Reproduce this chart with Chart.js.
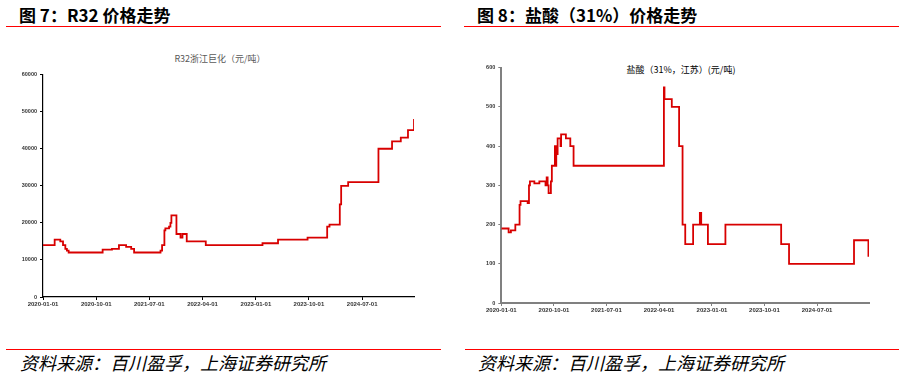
<!DOCTYPE html>
<html>
<head>
<meta charset="utf-8">
<script src="https://cdn.jsdelivr.net/npm/chart.js@4.4.0/dist/chart.umd.min.js"></script>
<style>
  body { margin: 0; width: 904px; height: 377px; background: #fff; position: relative; overflow: hidden; font-family: "Noto Sans CJK SC", sans-serif; }
  .abs { position: absolute; white-space: nowrap; }
  .head { font-size: 17px; font-weight: bold; color: #000; line-height: 1; }
  .rule { position: absolute; height: 1px; background: #ff0000; }
  .src { font-size: 18px; font-style: italic; color: #000; line-height: 1; }
  .ctitle { font-size: 9px; line-height: 1; transform: translateX(-50%); }
  canvas { position: absolute; }
</style>
</head>
<body>
<div class="abs head" style="left:19px;top:6px;">图 7：R32 价格走势</div>
<div class="rule" style="left:6px;top:26px;width:435px;"></div>
<div class="abs head" style="left:477px;top:6px;">图 8：盐酸（31%）价格走势</div>
<div class="rule" style="left:464px;top:26px;width:435px;"></div>

<div class="abs ctitle" style="left:220px;top:54px;color:#595959;">R32浙江巨化（元/吨）</div>
<div class="abs ctitle" style="left:681px;top:65px;color:#000;">盐酸（31%，江苏）(元/吨)</div>

<div style="position:absolute;left:0;top:40px;width:440px;height:277px;"><canvas id="c1"></canvas></div>
<div style="position:absolute;left:460px;top:40px;width:429px;height:283px;"><canvas id="c2"></canvas></div>

<div class="rule" style="left:6px;top:349px;width:435px;"></div>
<div class="abs src" style="left:20px;top:353px;">资料来源：百川盈孚，上海证券研究所</div>
<div class="rule" style="left:465px;top:349px;width:434px;"></div>
<div class="abs src" style="left:478px;top:353px;">资料来源：百川盈孚，上海证券研究所</div>

<script>
// tick labels shared by both charts
var xTicks = ['2020-01-01', '2020-10-01', '2021-07-01', '2022-04-01', '2023-01-01', '2023-10-01', '2024-07-01'];

// R32 浙江巨化 (元/吨) - value holds from the date until the next one
var r32Dates = ['2020-01-01', '2020-03-01', '2020-03-30', '2020-04-13', '2020-04-25', '2020-05-03', '2020-05-12',
  '2020-11-03', '2020-12-21', '2021-01-26', '2021-03-04', '2021-03-30', '2021-04-14', '2021-08-28', '2021-09-05',
  '2021-09-17', '2021-09-22', '2021-10-11', '2021-10-18', '2021-10-23', '2021-11-18', '2021-12-09', '2021-12-19',
  '2022-01-10', '2022-04-18', '2023-02-04', '2023-04-25', '2023-09-24', '2024-01-03', '2024-01-15', '2024-03-08',
  '2024-03-15', '2024-04-20', '2024-09-23', '2024-12-02', '2025-01-16', '2025-02-22', '2025-03-25'];
var r32Values = [14000, 15500, 15000, 14000, 13000, 12500, 12000,
  12800, 13000, 14000, 13500, 13000, 12000, 12500, 14000,
  18000, 18500, 19000, 20000, 22000, 17000, 16000, 17000,
  15000, 14000, 14500, 15500, 16000, 19000, 19500, 25000,
  30000, 31000, 40000, 42000, 43000, 45000, 48000];
var r32Ticks = [0, 10000, 20000, 30000, 40000, 50000, 60000];

// 盐酸 31% 江苏 (元/吨)
var hclDates = ['2020-01-01', '2020-02-08', '2020-02-20', '2020-03-14', '2020-04-05', '2020-04-10', '2020-05-17',
  '2020-05-24', '2020-05-29', '2020-06-21', '2020-07-17', '2020-08-18', '2020-08-24', '2020-08-29', '2020-09-03',
  '2020-09-15', '2020-09-20', '2020-10-06', '2020-10-11', '2020-10-13', '2020-10-20', '2020-11-04', '2020-11-07',
  '2020-12-02', '2020-12-25', '2021-01-11', '2022-04-26', '2022-04-29', '2022-06-06', '2022-07-14', '2022-08-01',
  '2022-08-15', '2022-09-25', '2022-10-30', '2022-11-06', '2022-12-11', '2023-03-12', '2023-12-27', '2024-02-06',
  '2025-01-09', '2025-03-25', '2025-03-28'];
var hclValues = [190, 180, 185, 200, 250, 260, 255,
  300, 310, 305, 310, 300, 320, 300, 280,
  310, 350, 400, 350, 380, 420, 400, 430,
  420, 400, 350, 550, 520, 500, 400, 200,
  150, 200, 230, 200, 150, 200, 150, 100,
  160, 120, 120];
var hclTicks = [0, 100, 200, 300, 400, 500, 600];

function toDay(s) {
    var p = s.split('-');
    return Math.round((Date.UTC(+p[0], +p[1] - 1, +p[2]) - Date.UTC(2020, 0, 1)) / 86400000);
}
function fromDay(d) {
    return new Date(Date.UTC(2020, 0, 1) + d * 86400000).toISOString().slice(0, 10);
}

function makeChart(id, dates, values, yTicks, endDate, opts) {
    var pts = dates.map(function (d, i) { return { x: toDay(d), y: values[i] }; });
    var tickFont = { family: 'Arial, "Liberation Sans"', size: 6, weight: 'bold' };
    var ctx = document.getElementById(id).getContext('2d');
    return new Chart(ctx, {
        type: 'line',
        data: {
            datasets: [{
                data: pts,
                borderColor: '#d80000',
                borderWidth: 1.8,
                pointRadius: 0,
                stepped: true,
                fill: false
            }]
        },
        options: {
            responsive: true,
            maintainAspectRatio: false,
            animation: false,
            plugins: { legend: { display: false }, tooltip: { enabled: false } },
            layout: { padding: { top: opts.padTop, right: opts.padRight, left: 0, bottom: 0 } },
            scales: {
                x: {
                    type: 'linear',
                    min: 0,
                    max: toDay(endDate),
                    afterBuildTicks: function (s) {
                        s.ticks = xTicks.map(function (t) { return { value: toDay(t) }; });
                    },
                    afterFit: function (s) { s.height = 20; },
                    ticks: {
                        autoSkip: false, maxRotation: 0, padding: 1,
                        color: '#333', font: tickFont,
                        callback: function (v) { return fromDay(v); }
                    },
                    grid: { drawOnChartArea: false, drawTicks: true, tickLength: 3, color: opts.axisColor, lineWidth: 1 },
                    border: { display: true, color: opts.axisColor, width: opts.axisWidth }
                },
                y: {
                    min: yTicks[0],
                    max: yTicks[yTicks.length - 1],
                    afterBuildTicks: function (s) {
                        s.ticks = yTicks.map(function (t) { return { value: t }; });
                    },
                    afterFit: function (s) { s.width = opts.yWidth; },
                    ticks: {
                        padding: 3, color: '#333',
                        font: { family: 'Arial, "Liberation Sans"', size: 5.5, weight: 'bold' },
                        callback: function (v) { return String(v); }
                    },
                    grid: { drawOnChartArea: false, drawTicks: true, tickLength: 3, color: opts.axisColor, lineWidth: 1 },
                    border: { display: true, color: opts.axisColor, width: opts.axisWidth }
                }
            }
        }
    });
}

makeChart('c1', r32Dates, r32Values, r32Ticks, '2025-03-25',
    { padTop: 34.6, padRight: 26, yWidth: 43, axisColor: '#000', axisWidth: 1.2 });
makeChart('c2', hclDates, hclValues, hclTicks, '2025-03-28',
    { padTop: 27.7, padRight: 20, yWidth: 41.3, axisColor: '#808080', axisWidth: 2 });
</script>
</body>
</html>
